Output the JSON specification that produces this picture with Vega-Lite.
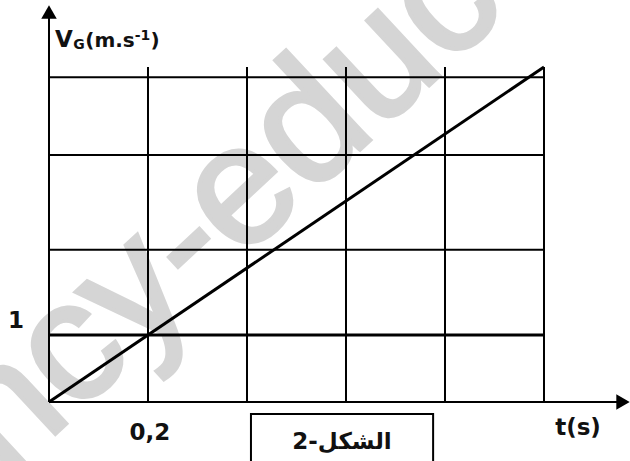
{
  "$schema": "https://vega.github.io/schema/vega-lite/v6.json",
  "width": 630,
  "height": 461,
  "padding": 0,
  "autosize": {"type": "none"},
  "background": "white",
  "config": {"view": {"stroke": null}},
  "datasets": {
    "vgrid": [{"t": 0.2}, {"t": 0.4}, {"t": 0.6}, {"t": 0.8}, {"t": 1.0}],
    "hgrid": [{"v": 2.273}, {"v": 3.687}, {"v": 4.846}],
    "vconst": [{"t": 0, "v": 1}, {"t": 1.0, "v": 1}],
    "vlin": [{"t": 0, "v": 0}, {"t": 1.0, "v": 5.0}],
    "bigtext": [
      {"t": 0.0303, "v": 5.2985, "label": "V"},
      {"t": 0.2040, "v": -0.5672, "label": "0,2"},
      {"t": 1.0687, "v": -0.4925, "label": "t(s)"},
      {"t": -0.0667, "v": 1.1045, "label": "1"}
    ],
    "midtext": [
      {"t": 0.1232, "v": 5.2985, "label": "(m.s"},
      {"t": 0.2141, "v": 5.2985, "label": ")"}
    ],
    "smalltext": [
      {"t": 0.0606, "v": 5.2687, "label": "G"},
      {"t": 0.1889, "v": 5.403, "label": "-1"}
    ],
    "caption": [{"t": 0.5919, "v": -0.7015, "label": "الشكل-2"}],
    "box": [{"t": 0.408, "t2": 0.776, "v": -0.179, "v2": -1.0}],
    "mark": [{"t": 0.5535, "v": 4.29, "label": "ency-education"}],
    "arrowY": [{"t": 0, "v": 5.82}],
    "arrowX": [{"t": 1.1596, "v": 0}]
  },
  "layer": [
    {
      "data": {"name": "mark"},
      "mark": {"type": "text", "font": "Liberation Sans", "fontSize": 170, "angle": -43, "align": "center", "baseline": "middle", "color": "#d5d5d5", "stroke": "#d5d5d5", "strokeWidth": 4},
      "encoding": {
        "x": {"field": "t", "type": "quantitative", "scale": {"domain": [-0.09899, 1.17374], "nice": false, "zero": false}, "axis": null},
        "y": {"field": "v", "type": "quantitative", "scale": {"domain": [-0.8806, 6.0], "nice": false, "zero": false}, "axis": null},
        "text": {"field": "label"}
      }
    },
    {
      "data": {"name": "vgrid"},
      "mark": {"type": "rule", "color": "#000", "strokeWidth": 2},
      "encoding": {
        "x": {"field": "t", "type": "quantitative", "scale": {"domain": [-0.09899, 1.17374], "nice": false, "zero": false}, "axis": null},
        "y": {"datum": 0, "type": "quantitative", "scale": {"domain": [-0.8806, 6.0], "nice": false, "zero": false}, "axis": null},
        "y2": {"datum": 5.0}
      }
    },
    {
      "data": {"name": "hgrid"},
      "mark": {"type": "rule", "color": "#000", "strokeWidth": 2},
      "encoding": {
        "y": {"field": "v", "type": "quantitative", "scale": {"domain": [-0.8806, 6.0], "nice": false, "zero": false}, "axis": null},
        "x": {"datum": 0, "type": "quantitative", "scale": {"domain": [-0.09899, 1.17374], "nice": false, "zero": false}, "axis": null},
        "x2": {"datum": 1.0}
      }
    },
    {
      "data": {"name": "vconst"},
      "mark": {"type": "line", "color": "#000", "strokeWidth": 3},
      "encoding": {
        "x": {"field": "t", "type": "quantitative", "scale": {"domain": [-0.09899, 1.17374], "nice": false, "zero": false}, "axis": null},
        "y": {"field": "v", "type": "quantitative", "scale": {"domain": [-0.8806, 6.0], "nice": false, "zero": false}, "axis": null}
      }
    },
    {
      "data": {"values": [{}]},
      "mark": {"type": "rule", "color": "#000", "strokeWidth": 2},
      "encoding": {
        "x": {"datum": 0, "type": "quantitative", "scale": {"domain": [-0.09899, 1.17374], "nice": false, "zero": false}, "axis": null},
        "y": {"datum": 0, "type": "quantitative", "scale": {"domain": [-0.8806, 6.0], "nice": false, "zero": false}, "axis": null},
        "y2": {"datum": 5.85}
      }
    },
    {
      "data": {"values": [{}]},
      "mark": {"type": "rule", "color": "#000", "strokeWidth": 2},
      "encoding": {
        "y": {"datum": 0, "type": "quantitative", "scale": {"domain": [-0.8806, 6.0], "nice": false, "zero": false}, "axis": null},
        "x": {"datum": 0, "type": "quantitative", "scale": {"domain": [-0.09899, 1.17374], "nice": false, "zero": false}, "axis": null},
        "x2": {"datum": 1.15}
      }
    },
    {
      "data": {"name": "arrowY"},
      "mark": {"type": "point", "shape": "triangle-up", "filled": true, "color": "#000", "size": 240, "opacity": 1},
      "encoding": {
        "x": {"field": "t", "type": "quantitative", "scale": {"domain": [-0.09899, 1.17374], "nice": false, "zero": false}, "axis": null},
        "y": {"field": "v", "type": "quantitative", "scale": {"domain": [-0.8806, 6.0], "nice": false, "zero": false}, "axis": null}
      }
    },
    {
      "data": {"name": "arrowX"},
      "mark": {"type": "point", "shape": "triangle-right", "filled": true, "color": "#000", "size": 240, "opacity": 1},
      "encoding": {
        "x": {"field": "t", "type": "quantitative", "scale": {"domain": [-0.09899, 1.17374], "nice": false, "zero": false}, "axis": null},
        "y": {"field": "v", "type": "quantitative", "scale": {"domain": [-0.8806, 6.0], "nice": false, "zero": false}, "axis": null}
      }
    },
    {
      "data": {"name": "vlin"},
      "mark": {"type": "line", "color": "#000", "strokeWidth": 3},
      "encoding": {
        "x": {"field": "t", "type": "quantitative", "scale": {"domain": [-0.09899, 1.17374], "nice": false, "zero": false}, "axis": null},
        "y": {"field": "v", "type": "quantitative", "scale": {"domain": [-0.8806, 6.0], "nice": false, "zero": false}, "axis": null}
      }
    },
    {
      "data": {"name": "box"},
      "mark": {"type": "rect", "fill": null, "fillOpacity": 0, "stroke": "#000", "strokeWidth": 2},
      "encoding": {
        "x": {"field": "t", "type": "quantitative", "scale": {"domain": [-0.09899, 1.17374], "nice": false, "zero": false}, "axis": null},
        "x2": {"field": "t2"},
        "y": {"field": "v", "type": "quantitative", "scale": {"domain": [-0.8806, 6.0], "nice": false, "zero": false}, "axis": null},
        "y2": {"field": "v2"}
      }
    },
    {
      "data": {"name": "bigtext"},
      "mark": {"type": "text", "font": "DejaVu Sans", "fontWeight": "bold", "fontSize": 23, "align": "center", "baseline": "alphabetic", "color": "#111"},
      "encoding": {
        "x": {"field": "t", "type": "quantitative", "scale": {"domain": [-0.09899, 1.17374], "nice": false, "zero": false}, "axis": null},
        "y": {"field": "v", "type": "quantitative", "scale": {"domain": [-0.8806, 6.0], "nice": false, "zero": false}, "axis": null},
        "text": {"field": "label"}
      }
    },
    {
      "data": {"name": "midtext"},
      "mark": {"type": "text", "font": "DejaVu Sans", "fontWeight": "bold", "fontSize": 20, "align": "center", "baseline": "alphabetic", "color": "#111"},
      "encoding": {
        "x": {"field": "t", "type": "quantitative", "scale": {"domain": [-0.09899, 1.17374], "nice": false, "zero": false}, "axis": null},
        "y": {"field": "v", "type": "quantitative", "scale": {"domain": [-0.8806, 6.0], "nice": false, "zero": false}, "axis": null},
        "text": {"field": "label"}
      }
    },
    {
      "data": {"name": "smalltext"},
      "mark": {"type": "text", "font": "DejaVu Sans", "fontWeight": "bold", "fontSize": 14, "align": "center", "baseline": "alphabetic", "color": "#111"},
      "encoding": {
        "x": {"field": "t", "type": "quantitative", "scale": {"domain": [-0.09899, 1.17374], "nice": false, "zero": false}, "axis": null},
        "y": {"field": "v", "type": "quantitative", "scale": {"domain": [-0.8806, 6.0], "nice": false, "zero": false}, "axis": null},
        "text": {"field": "label"}
      }
    },
    {
      "data": {"name": "caption"},
      "mark": {"type": "text", "font": "DejaVu Sans", "fontWeight": "bold", "fontSize": 23, "align": "center", "baseline": "alphabetic", "color": "#111"},
      "encoding": {
        "x": {"field": "t", "type": "quantitative", "scale": {"domain": [-0.09899, 1.17374], "nice": false, "zero": false}, "axis": null},
        "y": {"field": "v", "type": "quantitative", "scale": {"domain": [-0.8806, 6.0], "nice": false, "zero": false}, "axis": null},
        "text": {"field": "label"}
      }
    }
  ]
}
